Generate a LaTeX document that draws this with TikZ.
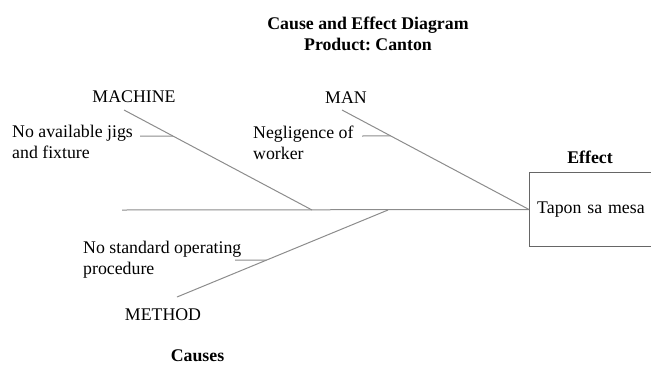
\documentclass[tikz,border=0pt]{standalone}
\usepackage{fontspec}
\setmainfont{Liberation Serif}
\usetikzlibrary{calc}
\frenchspacing

\newcommand{\bodyfont}{\fontsize{17.8pt}{21pt}\selectfont}

\begin{document}
\begin{tikzpicture}[x=1pt,y=-1pt,
    bone/.style={draw=black!45, line width=1pt},
    lbl/.style={font=\bodyfont, inner sep=0pt},
    hdr/.style={font=\bodyfont\bfseries, inner sep=0pt}]
  \useasboundingbox (0,0) rectangle (651,365);
  \clip (0,0) rectangle (651,365);

  % title
  \node[hdr, align=center, anchor=north] (title) at (368,17) {Cause and Effect Diagram\\Product: Canton};

  % effect box (runs off the right edge)
  \node[hdr, anchor=base] (effect) at (590,163) {Effect};
  \node[lbl, anchor=west, text width=160pt, inner xsep=8pt,
        minimum height=73pt, align=left] (box) at (529,209.5) {Tapon sa mesa};
  \draw[draw=black!60, line width=1pt] (box.north east) -- (box.north west) -- (box.south west) -- (box.south east);

  % spine
  \coordinate (tail) at (122,210);
  \draw[bone] (tail) -- (box.west);

  % main bones
  \node[lbl, anchor=base] (machine) at (134,102) {MACHINE};
  \node[lbl, anchor=base] (man) at (346,103) {MAN};
  \node[lbl, anchor=base] (method) at (163,320) {METHOD};
  \coordinate (machS) at (124,110);
  \coordinate (machE) at (312,210);
  \coordinate (manS) at (342,110);
  \coordinate (methS) at (177,297);
  \coordinate (methE) at (388,210);
  \draw[bone] (machS) -- (machE);
  \draw[bone] (manS) -- (box.west);
  \draw[bone] (methS) -- (methE);

  % causes
  \node[lbl, align=left, anchor=north west] (jigtxt) at (12,125) {No available jigs\\and fixture};
  \node[lbl, align=left, anchor=north west] (negtxt) at (253,126) {Negligence of\\worker};
  \node[lbl, align=left, anchor=north west] (soptxt) at (83,241) {No standard operating\\procedure};
  \coordinate (jigs) at (140,136);
  \coordinate (negl) at (362,136);
  \coordinate (sop) at (235,260);
  \foreach \c/\a/\b/\t in {jigs/machS/machE/0.26, negl/manS/box.west/0.26, sop/methS/methE/0.425}
    \draw[bone] (\c) -- ($(\a)!\t!(\b)$);

  \node[hdr, anchor=base] (causes) at (197.5,361) {Causes};
\end{tikzpicture}
\end{document}
